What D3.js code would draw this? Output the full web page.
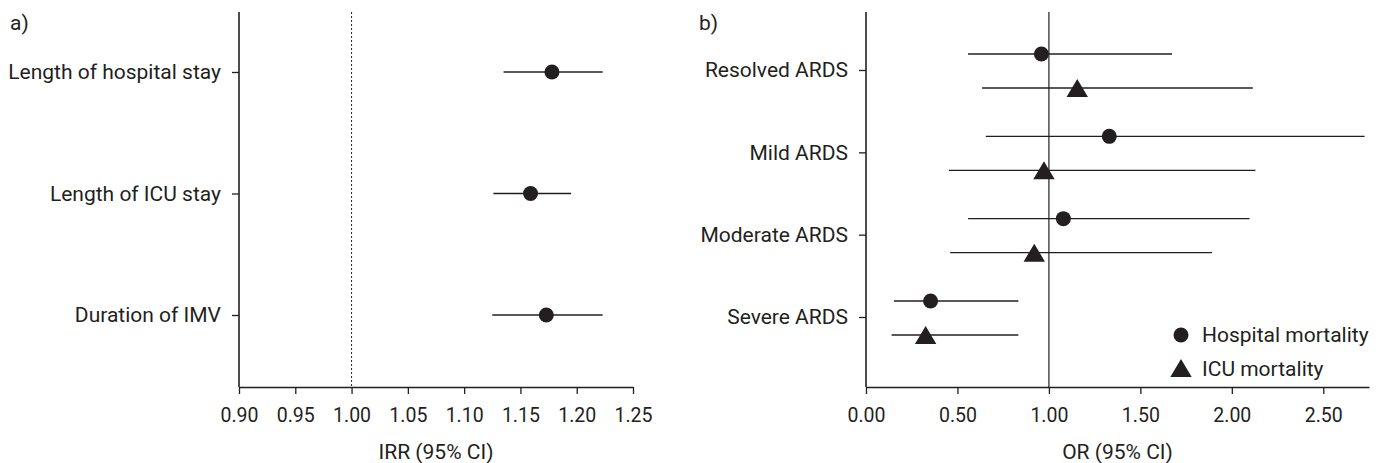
<!DOCTYPE html>
<html>
<head>
<meta charset="utf-8">
<script src="https://cdn.jsdelivr.net/npm/d3@7"></script>
<style>
    body { margin: 0; background: #fff; }
    svg text { font-family: Roboto, "Noto Sans", sans-serif; fill: #231f20; }
</style>
</head>
<body>
<svg id="chart" width="1386" height="463"></svg>
<script>
// panel a) incidence rate ratios
const irrLabels = ['Length of hospital stay', 'Length of ICU stay', 'Duration of IMV'];
const irrEst = [1.178, 1.159, 1.173];
const irrLow = [1.135, 1.126, 1.125];
const irrHigh = [1.223, 1.195, 1.223];
const irrTicks = [0.90, 0.95, 1.00, 1.05, 1.10, 1.15, 1.20, 1.25];

// panel b) odds ratios
const ardsLabels = ['Resolved ARDS', 'Mild ARDS', 'Moderate ARDS', 'Severe ARDS'];
const hospEst = [0.959, 1.330, 1.079, 0.353];
const hospLow = [0.558, 0.655, 0.558, 0.153];
const hospHigh = [1.673, 2.726, 2.097, 0.833];
const icuEst = [1.155, 0.973, 0.920, 0.326];
const icuLow = [0.635, 0.453, 0.460, 0.140];
const icuHigh = [2.115, 2.129, 1.891, 0.833];
const orTicks = [0, 0.5, 1.0, 1.5, 2.0, 2.5];
const legendNames = ['Hospital mortality', 'ICU mortality'];

const ink = '#231f20';
const svg = d3.select('#chart');
const plotTop = 12, plotBottom = 387;
const triPath = 'M0,-9L10.7,9L-10.7,9Z';

function drawAxes(g, x, y, ticks, title) {
    let xa = g.append('g')
        .attr('transform', 'translate(0,' + plotBottom + ')')
        .call(d3.axisBottom(x).tickValues(ticks).tickFormat(d3.format('.2f')).tickSize(7).tickSizeOuter(0).tickPadding(14));
    xa.select('.domain').attr('stroke', ink).attr('stroke-width', 1.6);
    xa.selectAll('.tick line').attr('stroke', ink).attr('stroke-width', 1.3);
    xa.selectAll('text').style('font-size', '19.5px').attr('fill', ink);

    let ya = g.append('g')
        .attr('transform', 'translate(' + x.range()[0] + ',0)')
        .call(d3.axisLeft(y).tickSize(7).tickPadding(11));
    ya.select('.domain').remove();
    ya.selectAll('.tick line').attr('stroke', ink).attr('stroke-width', 1.3);
    ya.selectAll('text').style('font-size', '21px').attr('fill', ink);
    g.append('line')
        .attr('x1', x.range()[0]).attr('x2', x.range()[0])
        .attr('y1', plotTop).attr('y2', plotBottom)
        .attr('stroke', ink).attr('stroke-width', 1.6);

    g.append('text')
        .attr('x', (x.range()[0] + x.range()[1]) / 2)
        .attr('y', 459)
        .attr('text-anchor', 'middle')
        .style('font-size', '21px')
        .text(title);
}

// ---- panel a
let xa = d3.scaleLinear().domain([0.9, 1.25]).range([239, 633]);
let ya = d3.scalePoint().domain(irrLabels).range([72, 315]);
let ga = svg.append('g');
ga.append('text').attr('x', 10).attr('y', 30).style('font-size', '21px').text('a)');
ga.append('line')
    .attr('x1', xa(1)).attr('x2', xa(1))
    .attr('y1', plotTop).attr('y2', plotBottom)
    .attr('stroke', ink).attr('stroke-width', 1).attr('stroke-dasharray', '2,2');
drawAxes(ga, xa, ya, irrTicks, 'IRR (95% CI)');
irrLabels.forEach((lab, i) => {
    ga.append('line')
        .attr('x1', xa(irrLow[i])).attr('x2', xa(irrHigh[i]))
        .attr('y1', ya(lab)).attr('y2', ya(lab))
        .attr('stroke', ink).attr('stroke-width', 1.4);
    ga.append('circle')
        .attr('cx', xa(irrEst[i])).attr('cy', ya(lab)).attr('r', 7.5)
        .attr('fill', ink);
});

// ---- panel b
let xb = d3.scaleLinear().domain([0, 2.75]).range([866, 1369]);
let yb = d3.scalePoint().domain(ardsLabels).range([70, 317]);
let gb = svg.append('g');
gb.append('text').attr('x', 699).attr('y', 30).style('font-size', '21px').text('b)');
gb.append('line')
    .attr('x1', xb(1)).attr('x2', xb(1))
    .attr('y1', plotTop).attr('y2', plotBottom)
    .attr('stroke', ink).attr('stroke-width', 1.2);
drawAxes(gb, xb, yb, orTicks, 'OR (95% CI)');
ardsLabels.forEach((lab, i) => {
    let yh = yb(lab) - 16, yi = yb(lab) + 18;
    gb.append('line')
        .attr('x1', xb(hospLow[i])).attr('x2', xb(hospHigh[i]))
        .attr('y1', yh).attr('y2', yh)
        .attr('stroke', ink).attr('stroke-width', 1.4);
    gb.append('circle')
        .attr('cx', xb(hospEst[i])).attr('cy', yh).attr('r', 7.5)
        .attr('fill', ink);
    gb.append('line')
        .attr('x1', xb(icuLow[i])).attr('x2', xb(icuHigh[i]))
        .attr('y1', yi).attr('y2', yi)
        .attr('stroke', ink).attr('stroke-width', 1.4);
    gb.append('path')
        .attr('d', triPath)
        .attr('transform', 'translate(' + xb(icuEst[i]) + ',' + yi + ')')
        .attr('fill', ink);
});

// legend
let lg = gb.append('g').attr('transform', 'translate(1181,335)');
lg.append('circle').attr('cx', 0).attr('cy', 0).attr('r', 7.5).attr('fill', ink);
lg.append('text').attr('x', 21).attr('y', 7).style('font-size', '21px').text(legendNames[0]);
lg.append('path').attr('d', triPath).attr('transform', 'translate(0,33)').attr('fill', ink);
lg.append('text').attr('x', 21).attr('y', 41).style('font-size', '21px').text(legendNames[1]);
</script>
</body>
</html>
